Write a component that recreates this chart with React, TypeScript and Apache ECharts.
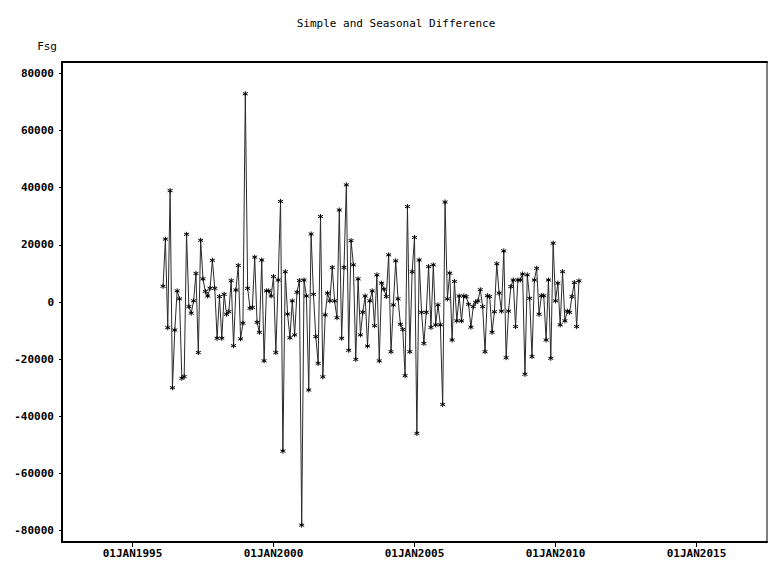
import React, { useEffect, useRef } from "react";
import * as echarts from "echarts";

// Monthly series, first observation Feb 1996 (month index 13 counted from Jan 1995 = 0)
const startMonthIndex = 13;
const fsgValues: number[] = [
  5500, 22000, -9000, 39000, -30000, -9800, 3900, 1100, -26700, -26100,
  23700, -1600, -3900, 400, 10000, -17700, 21600, 8100, 3700, 2100,
  4800, 14600, 4800, -12700, 1900, -12700, 2700, -4300, -3400, 7500,
  -15300, 4200, 12800, -12900, -7400, 72900, 4800, -2200, -1900, 15700,
  -7100, -10600, 14700, -20600, 3900, 3900, 2100, 8900, -17700, 7700,
  35200, -52200, 10600, -4200, -12500, 400, -11500, 3400, 7500, -78100,
  7700, 2100, -30800, 23800, 2700, -12100, -21500, 29900, -26200, -4500,
  3100, 400, 12100, 400, -5500, 32200, -12700, 12100, 41000, -16900,
  21500, 13000, -20100, 8100, -11500, -3600, 2100, -15400, 400, 3900,
  -8300, 9500, -20600, 6600, 4500, 1900, 16500, -17400, -1000, 14400,
  1100, -7800, -9600, -25800, 33400, -17400, 10600, 22600, -46000, 14700,
  -3600, -14500, -3600, 12400, -8900, 13000, -8000, -1000, -8000, -35900,
  35000, 1100, 10100, -13300, 7200, -6600, 2100, -6600, 2100, 1900,
  -800, -8800, -1600, -100, 400, 4300, -1600, -17400, 2200, 1900,
  -10600, -3400, 13400, 3100, -3200, 17900, -19500, -3200, 5400, 7700,
  -8600, 7700, 7700, 9800, -25300, 9500, 1300, -19100, 7700, 11800,
  -4300, 2200, 2200, -13300, 7700, -19700, 20600, 400, 6600, -8000,
  10600, -6600, -3200, -3600, 1900, 6800, -8600, 7400,
];

// Axis tick positions (month index from Jan 1995) and y tick values
const xTickMonths = [0, 60, 120, 180, 240];
const yTickValues = [-80000, -60000, -40000, -20000, 0, 20000, 40000, 60000, 80000];
const monthNames = ["JAN", "FEB", "MAR", "APR", "MAY", "JUN", "JUL", "AUG", "SEP", "OCT", "NOV", "DEC"];

const FONT = "DejaVu Sans Mono";
const asterisk = "path://M5,0L5,10M0.7,2.5L9.3,7.5M0.7,7.5L9.3,2.5";

export default function App() {
  const ref = useRef<HTMLDivElement>(null);

  useEffect(() => {
    document.body.style.margin = "0";
    if (!ref.current) return;
    const chart = echarts.init(ref.current, undefined, { renderer: "svg" });
    const data = fsgValues.map((v, i) => [startMonthIndex + i, v]);
    chart.setOption({
      animation: false,
      backgroundColor: "#fff",
      title: {
        text: "Simple and Seasonal Difference",
        left: 391,
        textAlign: "center",
        top: 13,
        textStyle: { fontFamily: FONT, fontSize: 11, fontWeight: "normal", color: "#000" },
      },
      grid: {
        left: 62,
        top: 62,
        right: 2,
        bottom: 19,
        show: true,
        borderColor: "#000",
        borderWidth: 1,
      },
      xAxis: [
        {
          type: "value",
          min: -30,
          max: 270,
          position: "bottom",
          splitLine: { show: false },
          axisLine: { show: true, onZero: false, lineStyle: { color: "#000", width: 2 } },
          axisTick: { show: true, length: 5, customValues: xTickMonths, lineStyle: { color: "#000", width: 1 } },
          axisLabel: {
            customValues: xTickMonths,
            margin: 6,
            fontFamily: FONT,
            fontSize: 11,
            fontWeight: "bold",
            color: "#000",
            formatter: (v: number) => {
              const y = 1995 + Math.floor(v / 12);
              const m = ((v % 12) + 12) % 12;
              return "01" + monthNames[m] + y;
            },
          },
        },
        {
          type: "value",
          min: -30,
          max: 270,
          position: "top",
          splitLine: { show: false },
          axisLine: { show: true, onZero: false, lineStyle: { color: "#000", width: 2 } },
          axisTick: { show: false },
          axisLabel: { show: false },
        },
      ],
      yAxis: {
        type: "value",
        min: -84000,
        max: 84000,
        name: "Fsg",
        nameLocation: "end",
        nameGap: 10,
        nameTextStyle: {
          fontFamily: FONT,
          fontSize: 11,
          color: "#000",
          align: "right",
          verticalAlign: "bottom",
          padding: [0, 5, 0, 0],
        },
        splitLine: { show: false },
        axisLine: { show: true, onZero: false, lineStyle: { color: "#000", width: 2 } },
        axisTick: { show: true, length: 3, customValues: yTickValues, lineStyle: { color: "#000" } },
        axisLabel: {
          customValues: yTickValues,
          margin: 8,
          fontFamily: FONT,
          fontSize: 11,
          fontWeight: "bold",
          color: "#000",
          formatter: (v: number) => String(v),
        },
      },
      series: [
        {
          type: "line",
          name: "Fsg",
          data,
          showSymbol: true,
          symbol: asterisk,
          symbolSize: 5,
          lineStyle: { color: "#2a2a2a", width: 1 },
          itemStyle: { color: "#000", borderColor: "#000", borderWidth: 1 },
        },
      ],
    });
    return () => chart.dispose();
  }, []);

  return <div ref={ref} style={{ width: 769, height: 561 }} />;
}
